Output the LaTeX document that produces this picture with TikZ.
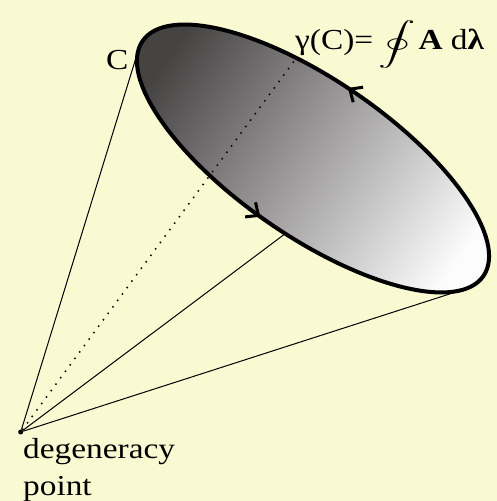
\documentclass[tikz,border=0pt]{standalone}
\usepackage{exscale}
\usepackage{graphicx}
\usepackage{fontspec}
\setmainfont{Liberation Serif}[FakeStretch=1.15]
\usetikzlibrary{arrows.meta,decorations.markings}
\definecolor{bgyellow}{RGB}{250,250,210}
\definecolor{loopdark}{RGB}{70,67,67}
\definecolor{looplight}{RGB}{252,252,252}
\tikzset{
  lbl/.style={inner sep=0pt,font=\fontsize{29}{37}\selectfont},
  ray/.style={line width=1pt},
  hidden/.style={line width=1.5pt,dash pattern=on 1.5pt off 6.5pt},
  sense/.style={decoration={markings,
      mark=at position 0.262 with {\arrow{Straight Barb[length=10pt,width=18pt,line width=3pt]}},
      mark=at position 0.739 with {\arrow{Straight Barb[length=10pt,width=18pt,line width=3pt]}}},
    postaction={decorate}},
}

\begin{document}
\begin{tikzpicture}[x=1pt,y=1pt]
  \fill[bgyellow] (0,0) rectangle (497,501);
  \useasboundingbox (0,0) rectangle (497,501);
  % the loop C, tilted
  \begin{scope}[shift={(313,342.5)},rotate=-34.6]
    \shadedraw[top color=loopdark,bottom color=looplight,shading angle=55.4,
      line width=4pt,sense]
      (0,0) ellipse [x radius=207,y radius=78];
    \coordinate (tanL) at ({207*cos(-173.27)},{78*sin(-173.27)});
    \coordinate (tanR) at ({207*cos(-16.17)},{78*sin(-16.17)});
    \coordinate (front) at ({207*cos(-84.5)},{78*sin(-84.5)});
    \coordinate (back) at ({207*cos(110)},{78*sin(110)});
  \end{scope}
  \node[circle,fill,inner sep=0pt,minimum size=5pt] (deg) at (20.7,69) {};
  \draw[ray] (deg) -- (tanL);
  \draw[ray] (deg) -- (front);
  \draw[ray] (deg) -- (tanR);
  \draw[hidden] (deg) -- (back);
  % labels
  \node[lbl,anchor=base west] (clbl) at (106,431) {C};
  \node[lbl,anchor=base west] (phase) at (295,451)
    {γ(C)=\hspace{5pt}\scalebox{1.5}[0.87]{$\displaystyle\oint$}\hspace{3pt}\textbf{A} d\textbf{λ}};
  \node[lbl,anchor=north west,align=left] (degl) at (23,63) {degeneracy\\point};
\end{tikzpicture}
\end{document}
